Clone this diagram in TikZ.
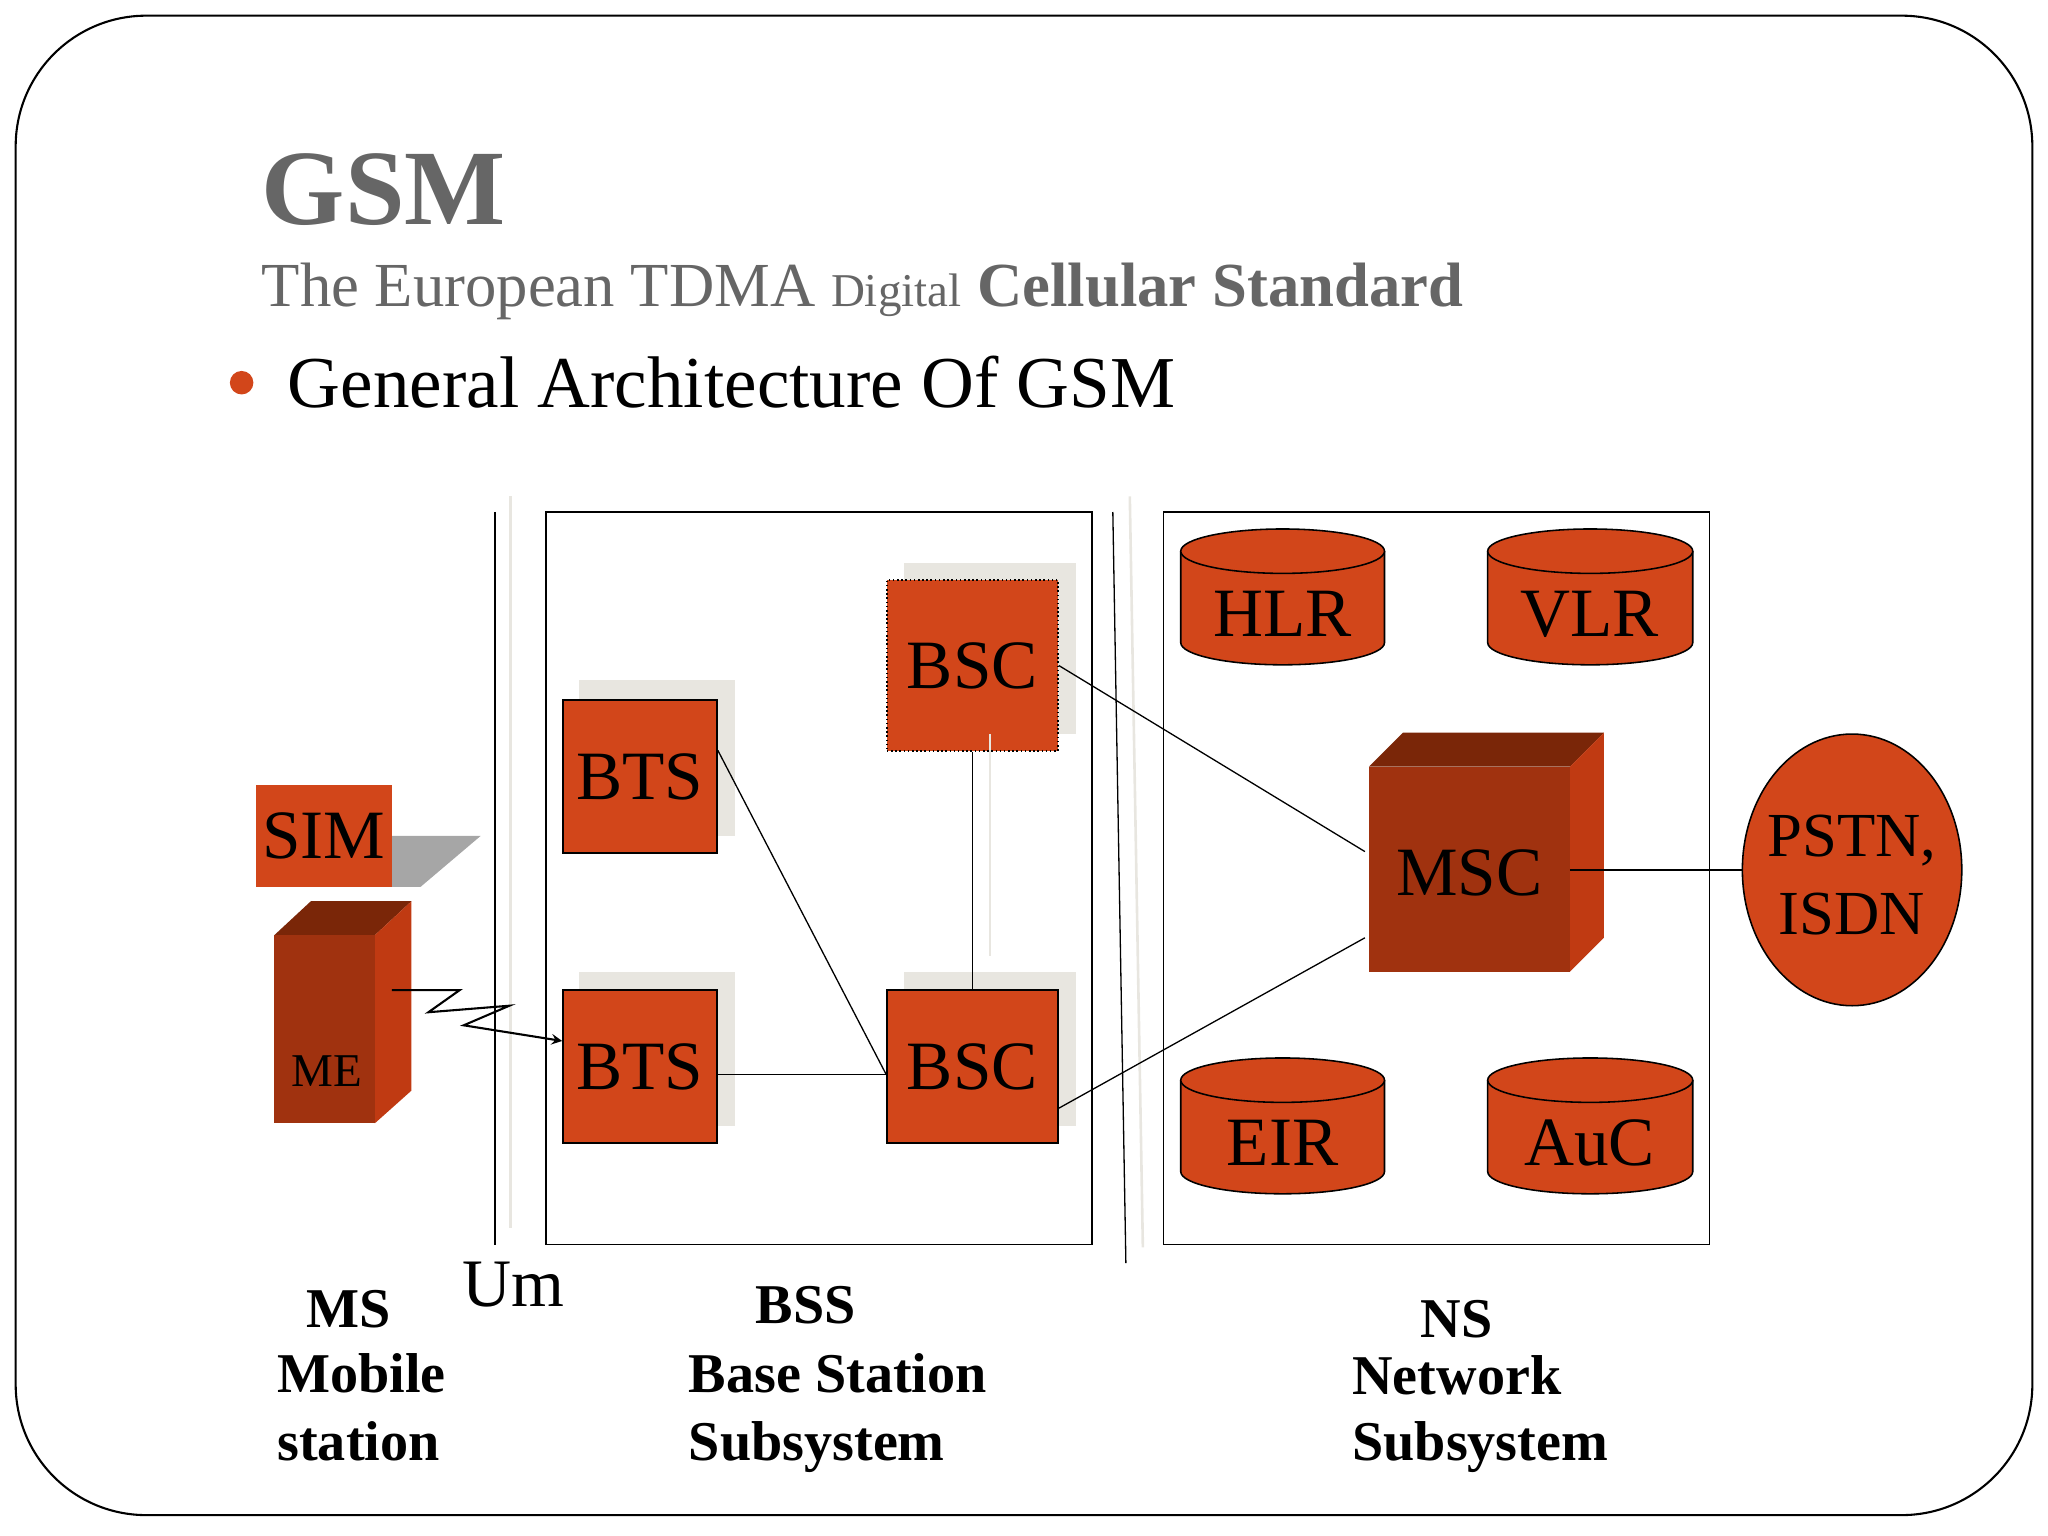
\documentclass[tikz,border=0pt]{standalone}
\usepackage{fontspec}
\setmainfont{Liberation Serif}
\usetikzlibrary{shapes.geometric}
\definecolor{org}{HTML}{D2461A}
\definecolor{dk}{HTML}{A0320F}
\definecolor{dkt}{HTML}{7A2608}
\definecolor{dks}{HTML}{C03A12}
\definecolor{shd}{HTML}{E8E6E0}
\definecolor{tg}{HTML}{666666}
\tikzset{
 box/.style={draw=black,fill=org,line width=0.6pt},
 shad/.style={fill=shd,draw=none},
 bt/.style={font=\fontsize{26.5}{26.5}\selectfont},
 lbl/.style={font=\bfseries\fontsize{21.5}{21.5}\selectfont,anchor=base west,inner sep=0},
 cyl/.style={draw=black,fill=org,line width=0.6pt},
 ln/.style={draw=black,line width=0.5pt}
}
\newcommand{\mycyl}[4]{% x1 x2 ytop ybot
 \fill[org] (#1,#3+17) -- (#1,#4-17) arc[start angle=180,end angle=0,x radius={(#2-#1)/2},y radius=17] -- (#2,#3+17) -- cycle;
 \draw[line width=0.6pt] (#1,#3+17) -- (#1,#4-17) arc[start angle=180,end angle=0,x radius={(#2-#1)/2},y radius=17] -- (#2,#3+17);
 \draw[cyl] ({(#1+#2)/2},#3+17) ellipse[x radius={(#2-#1)/2},y radius=17];
}
\begin{document}
\begin{tikzpicture}[x=0.5pt,y=-0.5pt]
\useasboundingbox (0,0) rectangle (1568,1176);
\draw[line width=0.8pt,rounded corners=50] (12,12) rectangle (1556,1160);
\node[anchor=base west,inner sep=0,text=tg,font=\bfseries\fontsize{41}{41}\selectfont] (t) at (200,172) {GSM};
\node[anchor=base west,inner sep=0,text=tg,font=\fontsize{24}{24}\selectfont] (st) at (200,235) {The European TDMA {\fontsize{18}{18}\selectfont Digital} \textbf{Cellular Standard}};
\fill[org] (185,293) circle (9);
\node[anchor=base west,inner sep=0,font=\fontsize{28}{28}\selectfont] (g) at (220,312) {General Architecture Of GSM};
% separators
\draw[ln] (379,392) -- (379,953);
\draw[shd,line width=1pt] (391,380) -- (391,940);
\draw[ln] (418,392) rectangle (836,953);
\draw[ln] (852,392) -- (862,967);
\draw[shd,line width=1pt] (865,380) -- (875,955);
\draw[ln] (891,392) rectangle (1309,953);
% shadows
\fill[shad] (443,521) rectangle (563,640);
\fill[shad] (443,744) rectangle (563,862);
\fill[shad] (692,431) rectangle (824,562);
\fill[shad] (692,744) rectangle (824,862);
% boxes
\node[box,bt,minimum width=59pt,minimum height=58.5pt,inner sep=0] (bts1) at (490,594.5) {BTS};
\node[box,bt,minimum width=59pt,minimum height=58.5pt,inner sep=0] (bts2) at (490,816.5) {BTS};
\node[box,bt,densely dotted,minimum width=65.5pt,minimum height=65.5pt,inner sep=0] (bsc1) at (744.5,509.5) {BSC};
\node[box,bt,minimum width=65.5pt,minimum height=58.5pt,inner sep=0] (bsc2) at (744.5,816.5) {BSC};
% MSC cube
\fill[dkt] (1048,587) -- (1074,561) -- (1228,561) -- (1202,587) -- cycle;
\fill[dks] (1202,587) -- (1228,561) -- (1228,718) -- (1202,744) -- cycle;
\fill[dk] (1048,587) rectangle (1202,744);
\node[bt,minimum width=77pt,minimum height=78.5pt,inner sep=0] (msc) at (1125,668) {MSC};
\node[draw=black,fill=org,ellipse,line width=0.6pt,minimum width=84pt,minimum height=104pt,inner sep=0] (pstn) at (1418,666) {};
\node[align=center,inner sep=0,font=\fontsize{24}{30}\selectfont] (pt) at (1418,670) {PSTN,\\ISDN};
% cylinders
\mycyl{904}{1060}{405}{509}
\mycyl{1139}{1296}{405}{509}
\mycyl{904}{1060}{810}{914}
\mycyl{1139}{1296}{810}{914}
\node[bt] (hlr) at (982,470) {HLR};
\node[bt] (vlr) at (1217,470) {VLR};
\node[bt] (eir) at (982,875) {EIR};
\node[bt] (auc) at (1217,875) {AuC};
% connectors
\coordinate (m1) at (1045,652);
\coordinate (m2) at (1045,718);
\draw[ln] ([yshift=10pt]bts1.east) -- ([yshift=-3pt]bsc2.west);
\draw[ln] ([yshift=-3pt]bts2.east) -- ([yshift=-3pt]bsc2.west);
\draw[ln] (bsc1.south) -- (bsc2.north);
\draw[shd,line width=1pt] (758,562) -- (758,732);
\draw[ln] (bsc1.east) -- (m1);
\draw[ln] ([yshift=-16pt]bsc2.east) -- (m2);
\draw[ln] (1202,666) -- (pstn.west);
% SIM & ME
\fill[gray!70] (300,640) -- (368,640) -- (322,679) -- (300,679) -- cycle;
\node[fill=org,bt,minimum width=52pt,minimum height=39pt,inner sep=0] (sim) at (248,640) {SIM};
\fill[dkt] (210,716) -- (238,690) -- (315,690) -- (287,716) -- cycle;
\fill[dks] (287,716) -- (315,690) -- (315,835) -- (287,860) -- cycle;
\fill[dk] (210,716) rectangle (287,860);
\node[font=\fontsize{18}{18}\selectfont] (me) at (250,820) {ME};
\coordinate (z0) at (300,758);
\draw[ln,-stealth,line width=0.8pt] (z0) -- (352,758) -- (328,775) -- (390,770) -- (355,785) -- (bts2.west |- 0,797);
% labels
\node[anchor=base,inner sep=0,font=\fontsize{26}{26}\selectfont] (um) at (393,1000) {Um};
\node[lbl,anchor=base] (ms) at (267,1016) {MS};
\node[lbl] (mob) at (212,1066) {Mobile};
\node[lbl] (sta) at (212,1118) {station};
\node[lbl,anchor=base] (bss) at (617,1013) {BSS};
\node[lbl] (bs) at (527,1066) {Base Station};
\node[lbl] (bsub) at (527,1118) {Subsystem};
\node[lbl,anchor=base] (ns) at (1115,1024) {NS};
\node[lbl] (nw) at (1035,1068) {Network};
\node[lbl] (nsub) at (1035,1118) {Subsystem};
\end{tikzpicture}
\end{document}
